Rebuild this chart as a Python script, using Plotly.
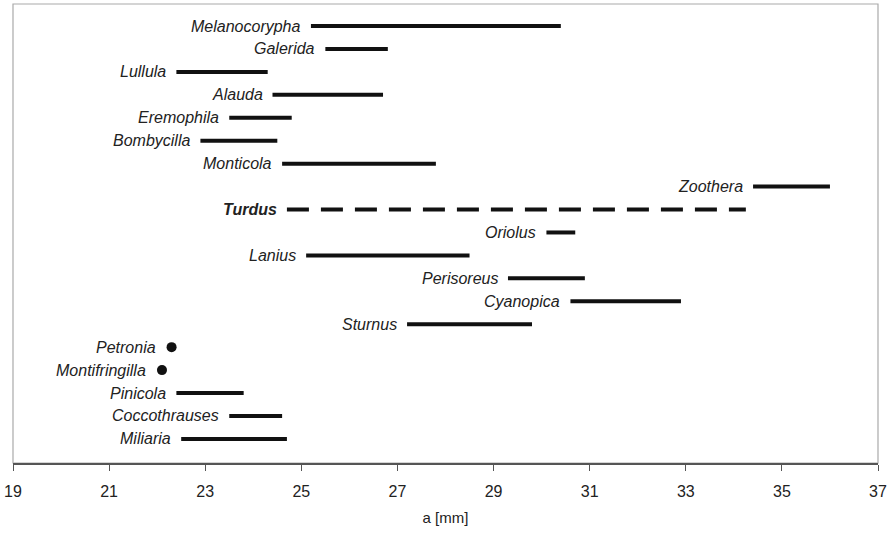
import plotly.graph_objects as go

genera = ["Melanocorypha", "Galerida", "Lullula", "Alauda", "Eremophila", "Bombycilla",
          "Monticola", "Zoothera", "Turdus", "Oriolus", "Lanius", "Perisoreus",
          "Cyanopica", "Sturnus", "Petronia", "Montifringilla", "Pinicola",
          "Coccothrauses", "Miliaria"]
a_min = [25.2, 25.5, 22.4, 24.4, 23.5, 22.9, 24.6, 34.4, 24.7, 30.1, 25.1, 29.3,
         30.6, 27.2, 22.3, 22.1, 22.4, 23.5, 22.5]
a_max = [30.4, 26.8, 24.3, 26.7, 24.8, 24.5, 27.8, 36.0, 34.25, 30.7, 28.5, 30.9,
         32.9, 29.8, 22.3, 22.1, 23.8, 24.6, 24.7]
highlight = "Turdus"
x_ticks = [19, 21, 23, 25, 27, 29, 31, 33, 35, 37]

FONT = "Arial, 'Liberation Sans', sans-serif"
fig = go.Figure()
annotations = []
for i, (g, lo, hi) in enumerate(zip(genera, a_min, a_max)):
    single = lo == hi
    if single:
        fig.add_trace(go.Scatter(x=[lo], y=[i], mode="markers",
                                 marker=dict(size=10, color="#111111"),
                                 showlegend=False, hoverinfo="x+name", name=g))
    else:
        fig.add_trace(go.Scatter(x=[lo, hi], y=[i, i], mode="lines",
                                 line=dict(color="#111111", width=4,
                                           dash="22px,12px" if g == highlight else "solid"),
                                 showlegend=False, hoverinfo="x+name", name=g))
    txt = f"<b><i>{g}</i></b>" if g == highlight else f"<i>{g}</i>"
    annotations.append(dict(x=lo, y=i, xref="x", yref="y", text=txt, showarrow=False,
                            xanchor="right", yanchor="middle",
                            xshift=-14 if single else -8,
                            font=dict(family=FONT, size=16, color="#222222")))

fig.update_layout(
    width=892, height=537,
    margin=dict(l=13, r=14, t=4, b=74),
    paper_bgcolor="white", plot_bgcolor="white",
    annotations=annotations,
    font=dict(family=FONT, color="#222222"),
    shapes=[dict(type="rect", xref="paper", yref="paper", x0=0, y0=0, x1=1, y1=1,
                 line=dict(color="#aaaaaa", width=1.2), layer="below")],
)
fig.update_xaxes(range=[19, 37], tickvals=x_ticks, ticks="outside", ticklen=6,
                 tickcolor="#555555", tickwidth=1.2, showline=True, linecolor="#555555",
                 linewidth=1.5, showgrid=False, zeroline=False,
                 tickfont=dict(family=FONT, size=16, color="#222222"),
                 ticklabelstandoff=7,
                 title=dict(text="a [mm]", font=dict(family=FONT, size=15, color="#222222"),
                            standoff=14))
fig.update_yaxes(range=[19.05, -0.96], visible=False, showgrid=False, zeroline=False)

fig.write_html("out.html")
